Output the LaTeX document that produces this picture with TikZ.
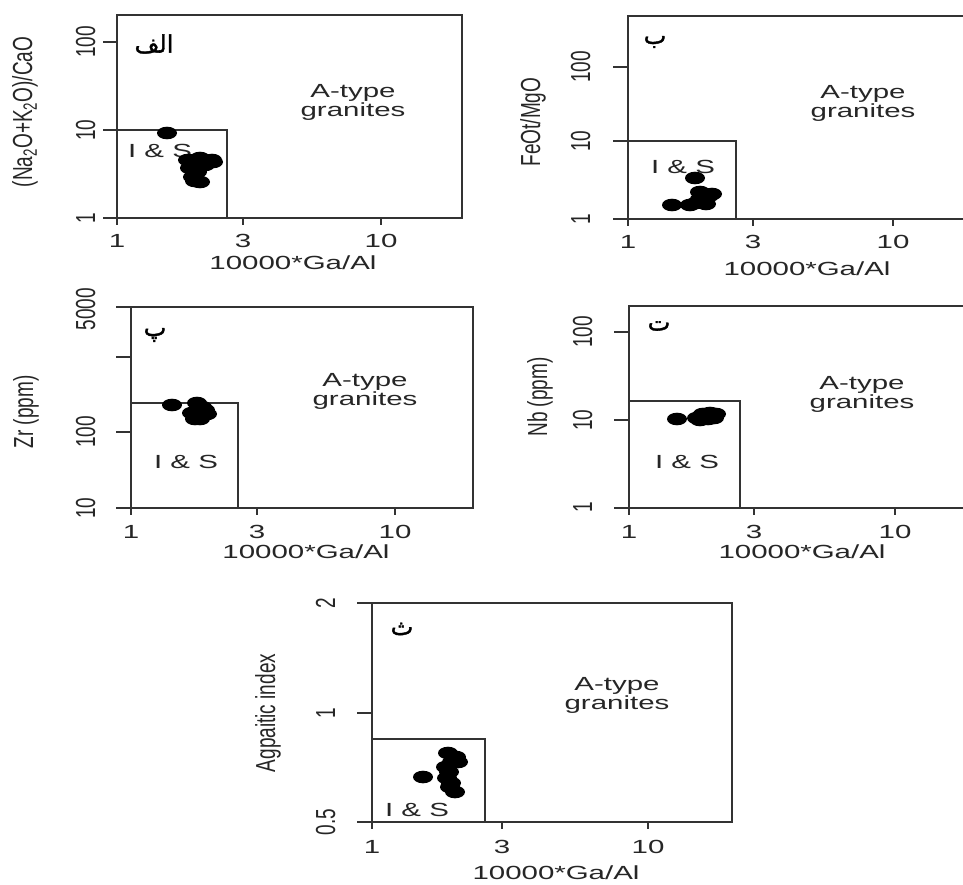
\documentclass[tikz,border=0pt]{standalone}
\usepackage{fontspec}
\setmainfont{Liberation Sans}
\newfontfamily\arabicfont[Script=Arabic,FakeBold=1.5]{DejaVu Sans}
\TeXXeTstate=1
\tikzset{
  frame/.style={draw=black!80, line width=1.4pt},
  tk/.style={draw=black!80, line width=1.4pt},
  htxt/.style={inner sep=0pt, anchor=base, text=black!85, font=\fontsize{19}{22}\selectfont},
  vtxt/.style={inner sep=0pt, anchor=base, rotate=90, text=black!85, font=\fontsize{19}{22}\selectfont},
  lbl/.style={inner sep=0pt, text=black, font=\arabicfont\fontsize{24}{28}\selectfont},
  dot/.style={fill=black},
}
\newcommand{\hs}[1]{\scalebox{1.55}[1]{#1}}
\newcommand{\vs}[1]{\scalebox{1}[1.45]{#1}}
\newcommand{\plotdots}[1]{\foreach \p in {#1} \fill[dot] \p ellipse (10 and 6.3);}
\begin{document}
\begin{tikzpicture}[x=1pt,y=-1pt]
\clip (0,0) rectangle (963,884);
\fill[white] (0,0) rectangle (963,884);

% ---------------- Panel 1 (alef) ----------------
\draw[frame] (117,15) rectangle (462,218);
\draw[frame] (117,130) -| (227,218);
\foreach \y in {42,130,218} \draw[tk] (103,\y) -- (117,\y);
\foreach \x in {117,243,381} \draw[tk] (\x,218) -- (\x,225);
\node[vtxt] (a100) at (95,42) {\vs{100}};
\node[vtxt] (a10) at (95,130) {\vs{10}};
\node[vtxt] (a1) at (95,218) {\vs{1}};
\node[htxt] (ax1) at (117,247) {\hs{1}};
\node[htxt] (ax3) at (243,247) {\hs{3}};
\node[htxt] (ax10) at (381,247) {\hs{10}};
\node[htxt] (axt) at (293,269) {\hs{10000*Ga/Al}};
\node[vtxt] (ayt) at (32,112) {\vs{(Na\textsubscript{2}O+K\textsubscript{2}O)/CaO}};
\node[htxt] (aA) at (353,97) {\hs{A-type}};
\node[htxt] (ag) at (353,116) {\hs{granites}};
\node[htxt] (aIS) at (160,157) {\hs{I \& S}};
\node[lbl] (alab) at (154,44) {\beginR الف\endR};
\plotdots{(167,133),(188,160),(200,158),(212,160),(190,168),(197,172),(193,177),(200,182),(195,181),(205,165),(213,162)}

% ---------------- Panel 2 (be) ----------------
\draw[frame] (628,16) rectangle (975,219);
\draw[frame] (628,141) -| (736,219);
\foreach \y in {67,141,219} \draw[tk] (613,\y) -- (628,\y);
\foreach \x in {628,753,893} \draw[tk] (\x,219) -- (\x,226);
\node[vtxt] (b100) at (590,67) {\vs{100}};
\node[vtxt] (b10) at (590,141) {\vs{10}};
\node[vtxt] (b1) at (590,219) {\vs{1}};
\node[htxt] (bx1) at (628,248) {\hs{1}};
\node[htxt] (bx3) at (753,248) {\hs{3}};
\node[htxt] (bx10) at (893,248) {\hs{10}};
\node[htxt] (bxt) at (807,275) {\hs{10000*Ga/Al}};
\node[vtxt] (byt) at (540,122) {\vs{FeOt/MgO}};
\node[htxt] (bA) at (863,98) {\hs{A-type}};
\node[htxt] (bg) at (863,117) {\hs{granites}};
\node[htxt] (bIS) at (683,173) {\hs{I \& S}};
\node[lbl] (blab) at (655,42) {\beginR ب\endR};
\plotdots{(695,178),(672,205),(700,192),(709,196),(696,203),(706,204),(700,199),(712,194),(690,205)}

% ---------------- Panel 3 (pe) ----------------
\draw[frame] (131,307) rectangle (473,508);
\draw[frame] (131,403) -| (238,508);
\foreach \y in {307,357,432,508} \draw[tk] (116,\y) -- (131,\y);
\foreach \x in {131,257,395} \draw[tk] (\x,508) -- (\x,515);
\node[vtxt] (c5000) at (95,309) {\vs{5000}};
\node[vtxt] (c100) at (95,432) {\vs{100}};
\node[vtxt] (c10) at (95,508) {\vs{10}};
\node[htxt] (cx1) at (131,538) {\hs{1}};
\node[htxt] (cx3) at (257,538) {\hs{3}};
\node[htxt] (cx10) at (395,538) {\hs{10}};
\node[htxt] (cxt) at (306,558) {\hs{10000*Ga/Al}};
\node[vtxt] (cyt) at (33,412) {\vs{Zr (ppm)}};
\node[htxt] (cA) at (365,386) {\hs{A-type}};
\node[htxt] (cg) at (365,405) {\hs{granites}};
\node[htxt] (cIS) at (186,468) {\hs{I \& S}};
\node[lbl] (clab) at (155,335) {\beginR پ\endR};
\plotdots{(172,405),(197,403),(205,410),(192,413),(200,419),(207,414),(195,419),(202,407)}

% ---------------- Panel 4 (te) ----------------
\draw[frame] (629,306) rectangle (975,508);
\draw[frame] (629,401) -| (740,508);
\foreach \y in {332,420,508} \draw[tk] (614,\y) -- (629,\y);
\foreach \x in {629,754,895} \draw[tk] (\x,508) -- (\x,515);
\node[vtxt] (d100) at (592,332) {\vs{100}};
\node[vtxt] (d10) at (592,420) {\vs{10}};
\node[vtxt] (d1) at (592,507) {\vs{1}};
\node[htxt] (dx1) at (629,538) {\hs{1}};
\node[htxt] (dx3) at (754,538) {\hs{3}};
\node[htxt] (dx10) at (895,538) {\hs{10}};
\node[htxt] (dxt) at (802,558) {\hs{10000*Ga/Al}};
\node[vtxt] (dyt) at (547,397) {\vs{Nb (ppm)}};
\node[htxt] (dA) at (862,389) {\hs{A-type}};
\node[htxt] (dg) at (862,408) {\hs{granites}};
\node[htxt] (dIS) at (687,468) {\hs{I \& S}};
\node[lbl] (dlab) at (659,326) {\beginR ت\endR};
\plotdots{(677,419),(697,418),(703,414),(710,413),(716,414),(700,420),(708,419),(714,418)}

% ---------------- Panel 5 (the) ----------------
\draw[frame] (372,603) rectangle (732,822);
\draw[frame] (372,739) -| (485,822);
\foreach \y in {603,713,822} \draw[tk] (357,\y) -- (372,\y);
\foreach \x in {372,502,648} \draw[tk] (\x,822) -- (\x,829);
\node[vtxt] (e2) at (335,603) {\vs{2}};
\node[vtxt] (e1) at (335,713) {\vs{1}};
\node[vtxt] (e05) at (335,822) {\vs{0.5}};
\node[htxt] (ex1) at (372,853) {\hs{1}};
\node[htxt] (ex3) at (502,853) {\hs{3}};
\node[htxt] (ex10) at (648,853) {\hs{10}};
\node[htxt] (ext) at (556,879) {\hs{10000*Ga/Al}};
\node[vtxt] (eyt) at (275,713) {\vs{Agpaitic index}};
\node[htxt] (eA) at (617,690) {\hs{A-type}};
\node[htxt] (eg) at (617,709) {\hs{granites}};
\node[htxt] (eIS) at (417,816) {\hs{I \& S}};
\node[lbl] (elab) at (402,629) {\beginR ث\endR};
\plotdots{(423,777),(448,753),(456,757),(458,762),(446,767),(449,772),(447,778),(451,783),(455,792),(452,762),(450,787)}
\end{tikzpicture}
\end{document}
